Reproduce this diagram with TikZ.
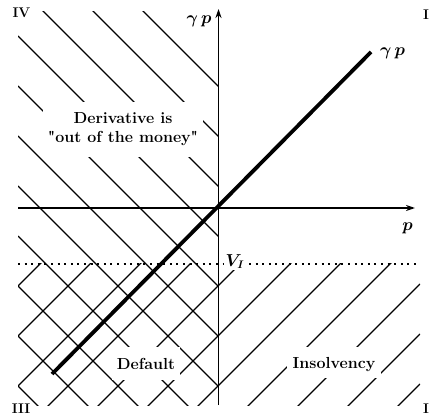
\documentclass[tikz,border=0pt]{standalone}
\usetikzlibrary{arrows.meta}
\begin{document}
\begin{tikzpicture}[x=1pt,y=-1pt,
  hatch/.style={line width=1.3pt},
  axisline/.style={line width=1.9pt,-{Stealth[length=9pt,width=6pt]}},
  lbl/.style={font=\fontsize{16}{19}\selectfont\bfseries, fill=white, inner sep=0pt, align=center},
  quad/.style={font=\fontsize{14}{16}\selectfont\bfseries, anchor=base, inner sep=0pt},
  mathlbl/.style={font=\fontsize{16}{18}\selectfont\boldmath, anchor=base, inner sep=1pt}]
\useasboundingbox (0,0) rectangle (430,419);
% key coordinates
\coordinate (O) at (218.5,208);
\coordinate (xs) at (18,208);
\coordinate (xe) at (415,208);
\coordinate (ys) at (218.5,405);
\coordinate (ye) at (218.5,9);
\coordinate (ds) at (18,263.5);
\coordinate (de) at (420,263.5);
\coordinate (ls) at (52,374);
\coordinate (le) at (371,52);
% hatching "\" in left half
\begin{scope}
  \clip (18,12) rectangle (218.5,405);
  \foreach \c in {-368,-318,...,132}
    \draw[hatch] (18,{18-(\c)}) -- (218.5,{218.5-(\c)});
\end{scope}
% hatching "/" below V_I
\begin{scope}
  \clip (18,263.5) rectangle (420,405);
  \foreach \s in {304,354,...,804}
    \draw[hatch] (18,{\s-18}) -- (420,{\s-420});
\end{scope}
% text boxes
\node[lbl, minimum width=160pt, minimum height=55pt] (deriv) at (123,129.5) {Derivative is\\\textquotedbl out of the money\textquotedbl};
\node[lbl, minimum width=68pt, minimum height=33pt, text height=11pt, text depth=0pt] (default) at (146,363.5) {Default};
\node[lbl, minimum width=94pt, minimum height=31pt, text height=11pt, text depth=0pt] (insolv) at (334,362.5) {Insolvency};
% dotted level
\draw[line width=2pt, dash pattern=on 2pt off 4.6pt] (ds) -- (de);
% axes
\draw[axisline] (xs) -- (xe);
\draw[axisline] (ys) -- (ye);
% gamma p line
\draw[line width=3.8pt] (ls) -- (le);
% labels
\node[mathlbl] (gtop) at (199,24) {$\gamma\,p$};
\node[mathlbl] (gend) at (392.5,56) {$\gamma\,p$};
\node[mathlbl] (plbl) at (407.5,231) {$p$};
\node[mathlbl, fill=white, inner sep=1.5pt] (vi) at (235,266) {$V_I$};
\node[quad] (q4) at (21.5,18) {IV};
\node[quad] (q3) at (21,413) {III};
\node[quad, anchor=base west] (q1) at (423,20) {I};
\node[quad, anchor=base west] (q2) at (423,413) {I};
\end{tikzpicture}
\end{document}
